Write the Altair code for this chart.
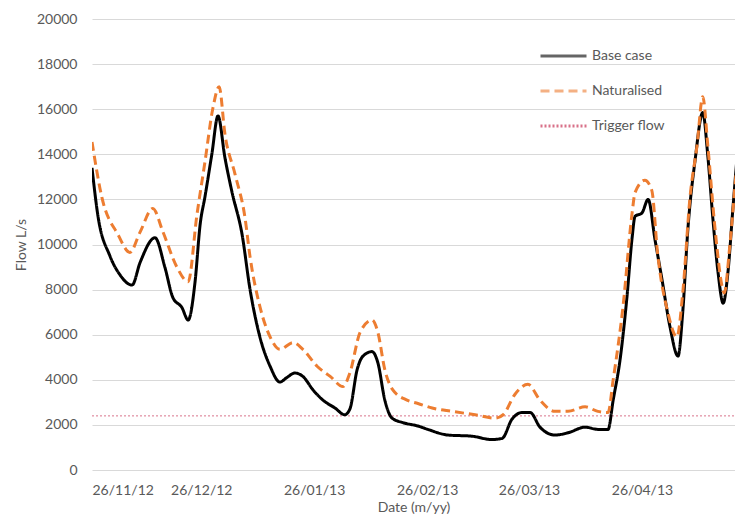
import altair as alt
import pandas as pd

# x = days after 26/11/12
base_days = [0, 1.6, 4.9, 7.7, 11.0, 13.2, 17.3, 20.0, 22.2, 24.7, 26.4, 28.3, 29.7, 31.0, 32.9, 34.6,
             36.5, 38.4, 41.2, 43.4, 46.1, 48.9, 51.6, 53.5, 55.7, 57.9, 60.7, 63.4, 66.7, 69.4, 70.8,
             72.8, 74.4, 76.9, 78.5, 80.4, 82.4, 85.4, 89.5, 92.2, 97.7, 104.3, 109.8, 112.6, 115.3,
             118.1, 120.3, 123.0, 127.1, 130.7, 135.4, 138.9, 141.7, 143.1, 145.0, 146.9, 148.3, 149.1,
             151.0, 152.7, 154.6, 156.5, 158.7, 160.9, 162.2, 163.6, 165.6, 167.7, 169.1, 170.5, 171.9,
             173.3, 174.6, 176.0, 177.4, 178.7]
base_flow = [13400, 11300, 9500, 8650, 8200, 9200, 10300, 9000, 7650, 7200, 6650, 8350, 10900, 12100, 14000, 15700,
             13850, 12350, 10450, 8000, 5900, 4600, 3900, 4100, 4300, 4150, 3550, 3100, 2750, 2450, 2700,
             4450, 5050, 5250, 4750, 3100, 2300, 2100, 1950, 1800, 1550, 1500, 1350, 1400, 2250,
             2550, 2550, 1900, 1550, 1650, 1900, 1800, 1800, 3100, 4900, 7700, 10300, 11250,
             11400, 12000, 10200, 8450, 6350, 5050, 7000, 10650, 13750, 15850, 13900, 11100, 8750,
             7400, 8750, 11650, 14350, 16100]

nat_days = [0, 2.7, 7.1, 10.4, 13.2, 16.7, 19.5, 23.3, 26.4, 28.8, 31.0, 33.2, 34.9, 36.5, 39.3, 42.0,
            43.4, 46.1, 48.9, 51.6, 55.2, 57.9, 61.8, 65.4, 68.9, 70.8, 73.6, 76.9, 78.5, 80.4, 82.6,
            86.5, 89.5, 93.4, 98.8, 105.2, 110.7, 112.9, 116.1, 119.7, 123.0, 127.1, 130.7, 135.4,
            138.9, 141.7, 143.1, 145.8, 148.3, 149.1, 151.8, 153.7, 155.3, 158.1, 160.6, 162.2, 164.2,
            166.1, 167.7, 169.1, 171.1, 173.0, 173.6, 175.1, 177.1, 178.7]
nat_flow = [14550, 12100, 10450, 9650, 10550, 11600, 10550, 9000, 8350, 11300, 13650, 16050, 17000, 14900, 13100, 11200,
            9450, 7250, 5900, 5350, 5650, 5350, 4600, 4150, 3700, 4300, 6100, 6650, 6100, 4450, 3550,
            3100, 2950, 2750, 2600, 2450, 2300, 2450, 3350, 3800, 3100, 2600, 2600, 2800,
            2600, 2550, 4000, 7250, 11400, 12300, 12850, 12400, 9600, 7000, 5900, 7850, 12100,
            14350, 16550, 14350, 10650, 8150, 7850, 9900, 13600, 16000]

trigger_days = [0, 178.7]
trigger_flow = [2400, 2400]

series_names = ["Base case", "Naturalised", "Trigger flow"]
series_colors = ["#000000", "#ED7D31", "#C0143C"]
series_dash = [[1, 0], [9, 5], [2, 2]]

tick_days = [0, 30, 61, 92, 120, 151]
tick_labels = ["26/11/12", "26/12/12", "26/01/13", "26/02/13", "26/03/13", "26/04/13"]

df = pd.concat([
    pd.DataFrame({"day": base_days, "flow": base_flow, "series": series_names[0]}),
    pd.DataFrame({"day": nat_days, "flow": nat_flow, "series": series_names[1]}),
    pd.DataFrame({"day": trigger_days, "flow": trigger_flow, "series": series_names[2]}),
])

label_expr = "".join(f"datum.value == {d} ? '{l}' : " for d, l in zip(tick_days, tick_labels)) + "''"

FONT = "Lato"
GREY = "#595959"

x = alt.X("day:Q", scale=alt.Scale(domain=[0, 176.55], nice=False, zero=False),
          axis=alt.Axis(values=tick_days, labelExpr=label_expr, title="Date (m/yy)", grid=False,
                        domain=False, ticks=False, labelPadding=13, titlePadding=3,
                        labelFontSize=14, titleFontSize=14, labelColor=GREY, titleColor=GREY,
                        labelFont=FONT, titleFont=FONT, titleFontWeight="normal"))
y = alt.Y("flow:Q", scale=alt.Scale(domain=[0, 20000], nice=False),
          axis=alt.Axis(values=list(range(0, 20001, 2000)), format="d", title="Flow L/s",
                        grid=True, gridColor="#d9d9d9", gridWidth=1, domain=False, ticks=False,
                        labelPadding=15, titlePadding=8, labelFontSize=14, titleFontSize=14,
                        labelColor=GREY, titleColor=GREY, labelFont=FONT, titleFont=FONT,
                        titleFontWeight="normal"))
color = alt.Color("series:N", scale=alt.Scale(domain=series_names, range=series_colors),
                  legend=alt.Legend(title=None, orient="none", legendX=447, legendY=26,
                                    symbolType="stroke", symbolSize=2116, symbolStrokeWidth=3,
                                    labelFontSize=14, labelColor=GREY, labelFont=FONT,
                                    labelOffset=4, clipHeight=22, rowPadding=13))
dash = alt.StrokeDash("series:N", scale=alt.Scale(domain=series_names, range=series_dash), legend=None)

base = alt.Chart(df).encode(x=x, y=y, color=color, strokeDash=dash)

l1 = base.transform_filter(alt.datum.series == series_names[0]).mark_line(
    strokeWidth=3, interpolate="monotone", clip=True)
l2 = base.transform_filter(alt.datum.series == series_names[1]).mark_line(
    strokeWidth=3, interpolate="monotone", clip=True)
l3 = base.transform_filter(alt.datum.series == series_names[2]).mark_line(
    strokeWidth=1, opacity=0.6, clip=True)

chart = alt.layer(l3, l1, l2).properties(
    width=643, height=451,
    background="white",
    autosize=alt.AutoSizeParams(type="none"),
    padding={"left": 84, "top": 11, "right": 0, "bottom": 46},
).configure_view(stroke="transparent", strokeWidth=0)

chart.save("out.html", embed_options={"renderer": "svg", "actions": False})
